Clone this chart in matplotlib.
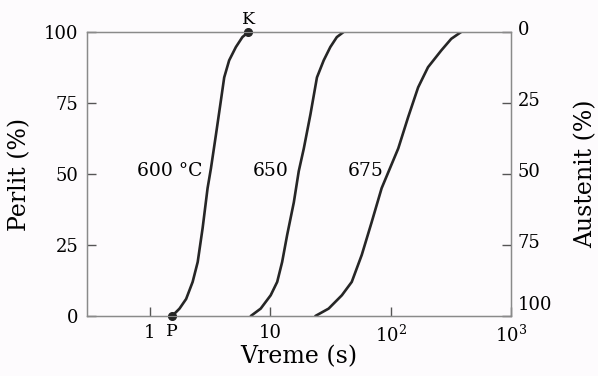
import numpy as np
import matplotlib.pyplot as plt
import matplotlib.transforms as mtransforms

plt.rcParams['font.family'] = 'DejaVu Serif'
plt.rcParams['mathtext.fontset'] = 'dejavuserif'

# perlit (%) against log10(time in s)
perlit_600 = [0, 2.6, 6, 12, 19, 31, 45, 52, 64, 76, 84, 90, 94.7, 98.2, 100]
log_t600 = [0.187, 0.248, 0.303, 0.357, 0.399, 0.440, 0.481, 0.509, 0.551,
            0.592, 0.619, 0.660, 0.716, 0.770, 0.820]
perlit_650 = [0, 2.6, 7.3, 12, 19, 28.6, 40, 51, 59, 71, 84, 90, 94.7, 98.2, 100]
log_t650 = [0.840, 0.922, 1.005, 1.059, 1.100, 1.142, 1.197, 1.238, 1.280,
            1.335, 1.389, 1.445, 1.500, 1.554, 1.610]
perlit_675 = [0, 2.6, 7.3, 12, 21.5, 33, 45, 52, 59, 70, 80.5, 87.6, 93.5, 97.6, 100]
log_t675 = [1.376, 1.486, 1.596, 1.678, 1.761, 1.843, 1.926, 1.995, 2.064,
            2.146, 2.229, 2.311, 2.421, 2.504, 2.586]
curve_labels = ['600 °C', '650', '675']
label_log_t = [0.44, 1.155, 1.94]
left_ticks = [0, 25, 50, 75, 100]
x_ticks = [1, 10, 100, 1000]
x_tick_labels = ['1', '10', r'$10^2$', r'$10^3$']

line_col = '#262626'
frame_col = '#8a8a8a'
bg = '#fdfbfd'

fig = plt.figure(figsize=(5.98, 3.76), dpi=100, facecolor=bg)
ax = fig.add_axes([0.1455, 0.1596, 0.709, 0.7553])
ax.set_facecolor(bg)

curves = [(log_t600, perlit_600), (log_t650, perlit_650), (log_t675, perlit_675)]
for lt, p in curves:
    ax.plot(10 ** np.array(lt), p, color=line_col, lw=1.9,
            solid_capstyle='round', solid_joinstyle='round')

ax.set_xscale('log')
ax.set_xlim(10 ** -0.52, 1000)
ax.set_ylim(0, 100)

# points P and K
ax.plot([10 ** log_t600[0], 10 ** log_t600[-1]], [0, 100], 'o', color=line_col,
        ms=5.5, clip_on=False, zorder=5)
ax.text(10 ** log_t600[0], -2.5, 'P', ha='center', va='top', fontsize=12.5)
ax.text(10 ** log_t600[-1], 101.5, 'K', ha='center', va='bottom', fontsize=12.5)

for lab, lt in zip(curve_labels, label_log_t):
    ax.text(10 ** lt, 51, lab, ha='right', va='center', fontsize=13.5)

for s in ax.spines.values():
    s.set_color(frame_col)
    s.set_linewidth(1.0)

ax.set_yticks(left_ticks)
ax.set_xticks(x_ticks)
ax.set_xticklabels(x_tick_labels)
ax.minorticks_off()
ax.tick_params(direction='in', length=6.5, color='#555555', width=1.0,
               labelsize=13, pad=6)
ax.tick_params(axis='x', labelsize=13, pad=6)
ax.set_xlabel('Vreme (s)', fontsize=17, labelpad=0)
ax.set_ylabel('Perlit (%)', fontsize=17, labelpad=9)

ax2 = ax.twinx()
ax2.set_ylim(100, 0)
ax2.set_yticks(left_ticks)
ax2.tick_params(direction='in', length=6.5, color='#555555', width=1.0,
                labelsize=13, pad=5)
ax2.set_ylabel('Austenit (%)', fontsize=17, labelpad=16)
for s in ax2.spines.values():
    s.set_color(frame_col)

# right labels sit a little higher, the bottom one clear of 10^3
for lbl, t in zip(ax2.get_yticklabels(), left_ticks):
    dy = 9 / 72 if t == 100 else 3 / 72
    lbl.set_transform(lbl.get_transform() +
                      mtransforms.ScaledTranslation(0, dy, fig.dpi_scale_trans))

fig.savefig('out.png', dpi=100, facecolor=fig.get_facecolor())
